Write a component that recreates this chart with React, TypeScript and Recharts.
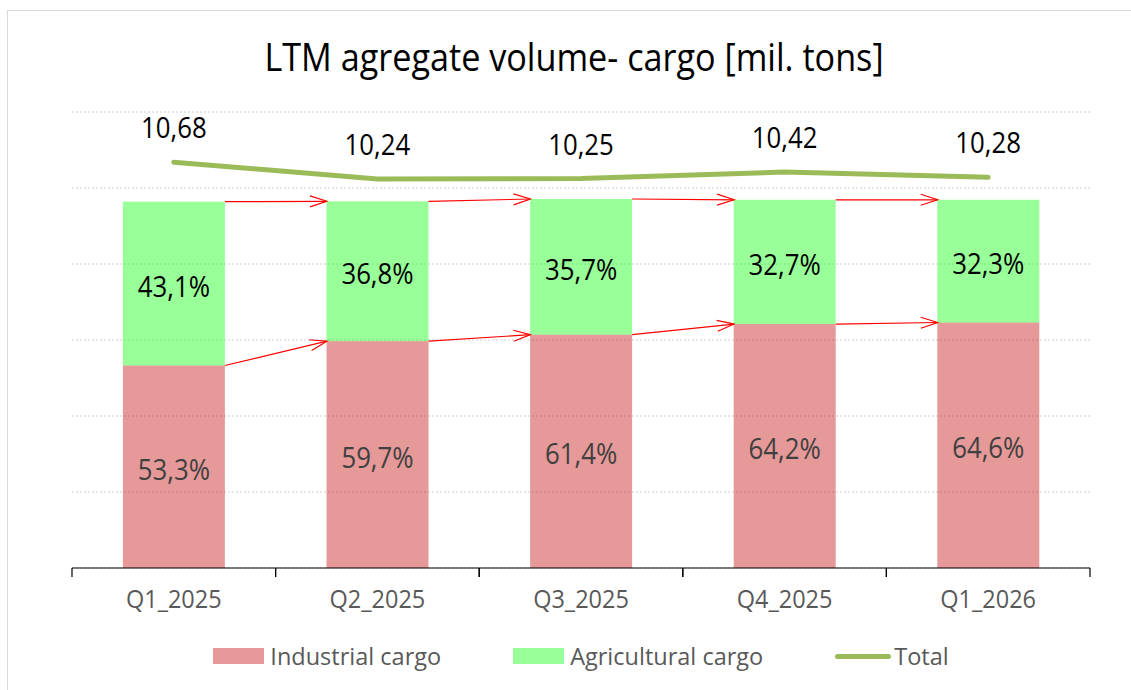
import React from 'react';
import {
  ComposedChart,
  Bar,
  Line,
  XAxis,
  YAxis,
  CartesianGrid,
  LabelList,
  Legend,
} from 'recharts';

// chart data
const categories = ['Q1_2025', 'Q2_2025', 'Q3_2025', 'Q4_2025', 'Q1_2026'];
const industrialShare = [53.3, 59.7, 61.4, 64.2, 64.6];
const agriculturalShare = [43.1, 36.8, 35.7, 32.7, 32.3];
const totalVolume = [10.68, 10.24, 10.25, 10.42, 10.28];
const shareTicks = [0, 20, 40, 60, 80, 100, 120];
const seriesNames = ['Industrial cargo', 'Agricultural cargo', 'Total'];
const title = 'LTM agregate volume- cargo [mil. tons]';

const data = categories.map((name, i) => ({
  name,
  industrial: industrialShare[i],
  agricultural: agriculturalShare[i],
  total: totalVolume[i],
}));

const W = 1131;
const H = 690;
const MARGIN = { top: 112, right: 41, left: 72, bottom: 16 };
const BAND = (W - MARGIN.left - MARGIN.right) / categories.length;
const SX = 0.86; // source font is narrower than the installed ones
const FONT = '"Open Sans", "Noto Sans", sans-serif';

const IND_COLOR = '#C00000';
const AGR_COLOR = '#00FF00';
const TOTAL_COLOR = '#9BBB59';
const ARROW = '#FF0000';

const fmt = (v: number, digits: number) => v.toFixed(digits).replace('.', ',');

// top / bottom of a stack segment in % units
const segTop = (key: string, i: number) =>
  key === 'industrial' ? industrialShare[i] : industrialShare[i] + agriculturalShare[i];
const segLow = (key: string, i: number) => (key === 'industrial' ? 0 : industrialShare[i]);

// bar + red arrow to the same segment of the next bar
const makeShape = (key: string) => (props: any) => {
  const { x, y, width, height, fill, fillOpacity } = props;
  let i = props.index;
  if (i == null) i = categories.indexOf(props.payload?.name);
  const low = segLow(key, i);
  const top = segTop(key, i);
  const k = height / (top - low);
  const zeroY = y + height + low * k;
  let arrow = null;
  if (i < categories.length - 1) {
    const x1 = x + width;
    const x2 = x + 2 * width; // barCategoryGap 25% => gap == bar width
    const y2 = zeroY - segTop(key, i + 1) * k;
    const ang = Math.atan2(y2 - y, x2 - x1);
    const len = 17;
    const half = 5.5;
    const bx = x2 - len * Math.cos(ang);
    const by = y2 - len * Math.sin(ang);
    const px = -Math.sin(ang) * half;
    const py = Math.cos(ang) * half;
    arrow = (
      <g stroke={ARROW} strokeWidth={1.2} fill="none">
        <line x1={x1} y1={y} x2={x2} y2={y2} />
        <path d={`M${bx + px},${by + py} L${x2},${y2} L${bx - px},${by - py}`} />
      </g>
    );
  }
  return (
    <g>
      <rect x={x} y={y} width={width} height={height} fill={fill} fillOpacity={fillOpacity} />
      {arrow}
    </g>
  );
};

const SqText = ({ x, y, size, color, sx = SX, children }: any) => (
  <text
    transform={`translate(${x} ${y}) scale(${sx} 1)`}
    textAnchor="middle"
    fontSize={size}
    fill={color}
    fontFamily={FONT}
  >
    {children}
  </text>
);

const makeBarLabel = (color: string) => (props: any) => {
  const vb = props.viewBox ?? props;
  const x = vb.x ?? props.x;
  const y = vb.y ?? props.y;
  const w = vb.width ?? props.width;
  const h = vb.height ?? props.height;
  return (
    <SqText x={x + w / 2} y={y + h / 2 + 13} size={30} color={color}>
      {fmt(Number(props.value), 1)}%
    </SqText>
  );
};

const TotalLabel = (props: any) => {
  const { x, y, value } = props;
  return (
    <SqText x={x} y={y - 24} size={30} color="#000">
      {fmt(Number(value), 2)}
    </SqText>
  );
};

const AxisTick = (props: any) => {
  const { x, y, payload } = props;
  const half = BAND / 2;
  return (
    <g>
      <line x1={x - half} x2={x - half} y1={y} y2={y + 9} stroke="#000" strokeWidth={1.2} />
      <line x1={x + half} x2={x + half} y1={y} y2={y + 9} stroke="#000" strokeWidth={1.2} />
      <SqText x={x} y={y + 40} size={25} sx={0.94} color="#595959">
        {payload.value}
      </SqText>
    </g>
  );
};

const legendSwatches = [
  { name: seriesNames[0], color: IND_COLOR, line: false },
  { name: seriesNames[1], color: AGR_COLOR, line: false },
  { name: seriesNames[2], color: TOTAL_COLOR, line: true },
];

const renderLegend = () => (
  <div
    style={{
      display: 'flex',
      justifyContent: 'center',
      alignItems: 'center',
      gap: 72,
      height: 36,
      fontFamily: FONT,
      fontSize: 23.5,
      color: '#595959',
    }}
  >
    {legendSwatches.map((it) => (
      <div key={it.name} style={{ display: 'flex', alignItems: 'center' }}>
        {it.line ? (
          <div style={{ width: 56, height: 5, borderRadius: 3, background: it.color, marginRight: 3 }} />
        ) : (
          <div style={{ width: 51, height: 16, background: it.color, opacity: 0.4, marginRight: 6 }} />
        )}
        <span>{it.name}</span>
      </div>
    ))}
  </div>
);

export default function App() {
  return (
    <div
      style={{
        position: 'absolute',
        left: 0,
        top: 0,
        width: W,
        height: H,
        overflow: 'hidden',
        background: '#fff',
        fontFamily: FONT,
      }}
    >
      <div
        style={{
          position: 'absolute',
          left: 7,
          top: 10,
          width: W + 20,
          height: H + 20,
          border: '1px solid #d9d9d9',
        }}
      />
      <ComposedChart width={W} height={H} data={data} margin={MARGIN} barCategoryGap="25%">
        <CartesianGrid vertical={false} stroke="#cfcfcf" strokeDasharray="2 2" />
        <XAxis
          dataKey="name"
          tickLine={false}
          tickSize={0}
          tickMargin={0}
          interval={0}
          height={70}
          axisLine={{ stroke: '#000', strokeWidth: 1.2 }}
          tick={<AxisTick />}
        />
        <YAxis hide domain={[0, 120]} ticks={shareTicks} />
        <YAxis yAxisId="tot" orientation="right" hide domain={[0, 12]} />
        <Legend verticalAlign="bottom" content={renderLegend} />
        <Bar
          dataKey="industrial"
          name={seriesNames[0]}
          stackId="s"
          fill={IND_COLOR}
          fillOpacity={0.4}
          shape={makeShape('industrial')}
          isAnimationActive={false}
        >
          <LabelList dataKey="industrial" content={makeBarLabel('#404040')} />
        </Bar>
        <Bar
          dataKey="agricultural"
          name={seriesNames[1]}
          stackId="s"
          fill={AGR_COLOR}
          fillOpacity={0.4}
          shape={makeShape('agricultural')}
          isAnimationActive={false}
        >
          <LabelList dataKey="agricultural" content={makeBarLabel('#000')} />
        </Bar>
        <Line
          yAxisId="tot"
          dataKey="total"
          name={seriesNames[2]}
          type="linear"
          stroke={TOTAL_COLOR}
          strokeWidth={5}
          strokeLinecap="round"
          dot={false}
          activeDot={false}
          isAnimationActive={false}
        >
          <LabelList dataKey="total" content={TotalLabel} />
        </Line>
      </ComposedChart>
      <svg
        width={W}
        height={H}
        style={{ position: 'absolute', left: 0, top: 0, pointerEvents: 'none' }}
      >
        <SqText x={574} y={71} size={38} sx={0.9} color="#000">
          {title}
        </SqText>
      </svg>
    </div>
  );
}
